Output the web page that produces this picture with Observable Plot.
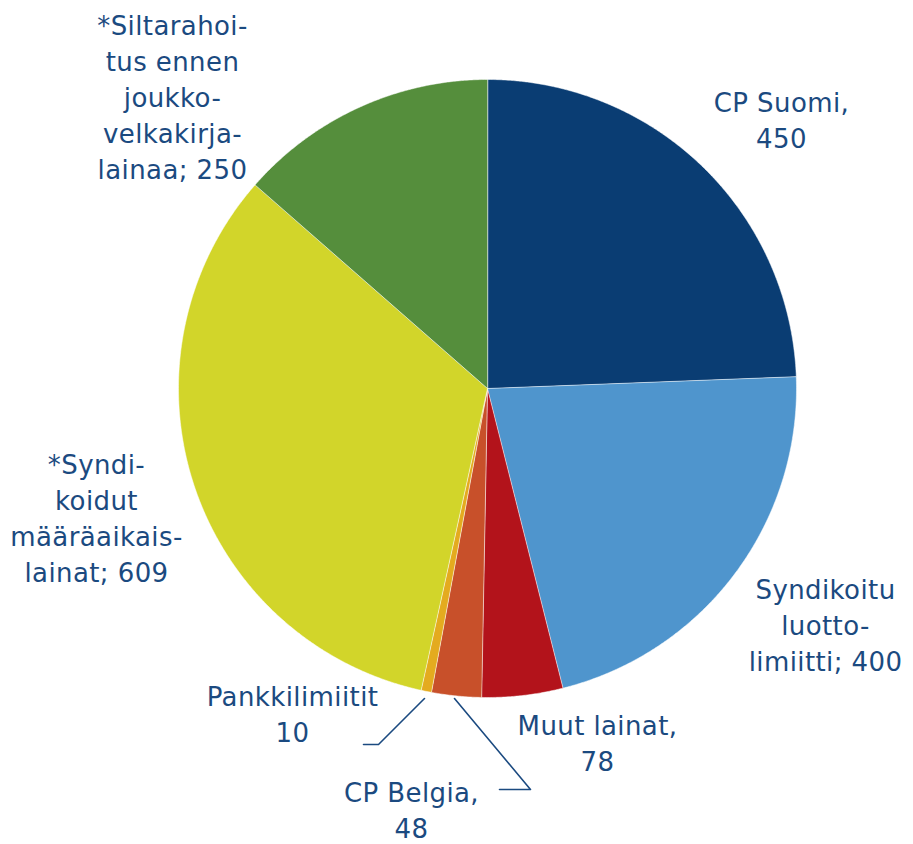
<!DOCTYPE html>
<html>
<head>
<meta charset="utf-8">
<script src="https://cdn.jsdelivr.net/npm/d3@7"></script>
<script src="https://cdn.jsdelivr.net/npm/@observablehq/plot@0.6"></script>
<style>
  html, body { margin: 0; padding: 0; background: #fff; }
  #chart svg { display: block; }
</style>
</head>
<body>
<div id="chart"></div>
<script>
// ---- data ----
const categories = [
  "CP Suomi",
  "Syndikoitu luottolimiitti",
  "Muut lainat",
  "CP Belgia",
  "Pankkilimiitit",
  "*Syndikoidut määräaikaislainat",
  "*Siltarahoitus ennen joukkovelkakirjalainaa"
];
const values = [450, 400, 78, 48, 10, 609, 250];
const labelTexts = [
  "CP Suomi,\n450",
  "Syndikoitu\nluotto-\nlimiitti; 400",
  "Muut lainat,\n78",
  "CP Belgia,\n48",
  "Pankkilimiitit\n10",
  "*Syndi-\nkoidut\nmääräaikais-\nlainat; 609",
  "*Siltarahoi-\ntus ennen\njoukko-\nvelkakirja-\nlainaa; 250"
];
const colors = ["#0a3d73", "#4f95cd", "#b3131b", "#c8502a", "#e4ab1f", "#d2d52a", "#558e3c"];

// ---- layout (positions in chart units) ----
const W = 913, H = 844;
const cx = 487, cy = 388, R = 309;
const labelX = [781, 825, 597, 411, 292, 96, 172];
const labelTop = [85.5, 572.5, 709, 776, 679.5, 447.5, 8.5];
const leaders = [
  {cat: "Pankkilimiitit", pts: [[424, 698], [378, 744], [363, 744]]},
  {cat: "CP Belgia", pts: [[454, 698], [530, 789], [499, 789]]}
];
const textColor = "#1b4a80";

// ---- build slices ----
const arcs = d3.pie().sort(null)(values);
const slicePts = [];
arcs.forEach((a, i) => {
  slicePts.push({cat: categories[i], x: cx, y: cy, color: colors[i]});
  const n = Math.max(2, Math.ceil((a.endAngle - a.startAngle) / 0.005));
  for (let k = 0; k <= n; k++) {
    const t = a.startAngle + (a.endAngle - a.startAngle) * k / n;
    slicePts.push({cat: categories[i], x: cx + R * Math.sin(t), y: cy - R * Math.cos(t), color: colors[i]});
  }
});
const labelData = categories.map((c, i) => ({cat: c, text: labelTexts[i], x: labelX[i], y: labelTop[i]}));
const leaderPts = leaders.flatMap(l => l.pts.map(p => ({cat: l.cat, x: p[0], y: p[1]})));

const chart = Plot.plot({
  width: W,
  height: H,
  margin: 0,
  style: {background: "#fff", fontFamily: "'DejaVu Sans', Verdana, sans-serif", letterSpacing: "0.4px"},
  x: {domain: [0, W], range: [0, W], axis: null},
  y: {domain: [0, H], range: [0, H], axis: null},
  marks: [
    Plot.line(slicePts, {x: "x", y: "y", z: "cat", fill: "color", stroke: "#ffffff", strokeWidth: 0.5, curve: "linear-closed"}),
    Plot.line(leaderPts, {x: "x", y: "y", z: "cat", stroke: textColor, strokeWidth: 1.6}),
    Plot.text(labelData, {x: "x", y: "y", text: "text", fill: textColor, fontSize: 26, lineAnchor: "top", lineHeight: 1.385, textAnchor: "middle"})
  ]
});
document.getElementById("chart").appendChild(chart);
</script>
</body>
</html>
